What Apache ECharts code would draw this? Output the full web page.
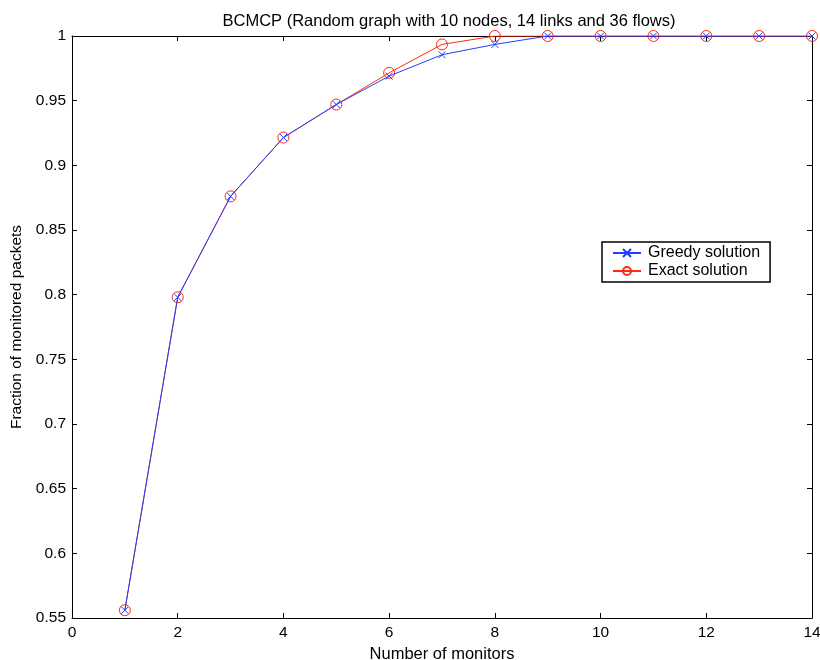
<!DOCTYPE html>
<html><head><meta charset="utf-8">
<script src="https://cdn.jsdelivr.net/npm/echarts@6/dist/echarts.min.js"></script>
<style>html,body{margin:0;padding:0;background:#fff}#c{width:820px;height:660px}</style>
</head><body><div id="c"></div>
<script>
const monitors = [1,2,3,4,5,6,7,8,9,10,11,12,13,14];
const greedy = [0.556,0.798,0.876,0.9215,0.947,0.969,0.9855,0.9935,1,1,1,1,1,1];
const exact  = [0.556,0.798,0.876,0.9215,0.947,0.9715,0.9935,1,1,1,1,1,1,1];
const xTicks = [0,2,4,6,8,10,12,14];
const yTicks = [0.55,0.6,0.65,0.7,0.75,0.8,0.85,0.9,0.95,1];

const font = 'Liberation Sans, Arial, Helvetica, sans-serif';
const chart = echarts.init(document.getElementById('c'), null, {renderer:'canvas'});
const crossPath = 'path://M0,0L10,10M10,0L0,10';
const axisCommon = {
  axisLine:{show:true, onZero:false, lineStyle:{color:'#000', width:1}},
  axisTick:{show:true, inside:true, length:5, lineStyle:{color:'#000'}},
  splitLine:{show:false}
};
chart.setOption({
  animation:false,
  backgroundColor:'#fff',
  title:{text:'BCMCP (Random graph with 10 nodes, 14 links and 36 flows)', left:444, textAlign:'center', top:8,
    textStyle:{fontFamily:font, fontSize:16.5, fontWeight:'normal', color:'#000'}},
  grid:{left:72, right:8, top:36, bottom:42, containLabel:false, outerBoundsMode:'none'},
  legend:{
    orient:'vertical', left:602, top:242, padding:[3,10,3,10], itemGap:2,
    borderColor:'#000', borderWidth:1.5, backgroundColor:'#fff',
    itemWidth:28, itemHeight:10,
    textStyle:{fontFamily:font, fontSize:16, color:'#000', padding:[0,0,0,2]},
    data:['Greedy solution','Exact solution']
  },
  xAxis:[
    Object.assign({type:'value', min:0, max:14, interval:2, position:'bottom',
      name:'Number of monitors', nameLocation:'middle', nameGap:28,
      nameTextStyle:{fontFamily:font, fontSize:16.5, color:'#000'},
      axisLabel:{fontFamily:font, fontSize:15.5, color:'#000', margin:7}}, axisCommon),
    Object.assign({type:'value', min:0, max:14, interval:2, position:'top', axisLabel:{show:false}}, axisCommon)
  ],
  yAxis:[
    Object.assign({type:'value', min:0.55, max:1, interval:0.05, position:'left',
      name:'Fraction of monitored packets', nameLocation:'middle', nameGap:47,
      nameTextStyle:{fontFamily:font, fontSize:15.5, color:'#000'},
      axisLabel:{fontFamily:font, fontSize:15.5, color:'#000', margin:6, formatter:v=>String(+v.toFixed(2))}}, axisCommon),
    Object.assign({type:'value', min:0.55, max:1, interval:0.05, position:'right', axisLabel:{show:false}}, axisCommon)
  ],
  series:[
    {name:'Exact solution', type:'line', data:monitors.map((m,i)=>[m,exact[i]]),
      symbol:'circle', symbolSize:11, z:2,
      lineStyle:{color:'#ff2a10', width:1},
      itemStyle:{color:'rgba(255,255,255,0)', borderColor:'#ff2a10', borderWidth:1}},
    {name:'Greedy solution', type:'line', data:monitors.map((m,i)=>[m,greedy[i]]),
      symbol:crossPath, symbolSize:7, z:3,
      lineStyle:{color:'#2040ff', width:1},
      itemStyle:{color:'#2040ff', borderColor:'#2040ff', borderWidth:1}}
  ]
});
</script></body></html>
